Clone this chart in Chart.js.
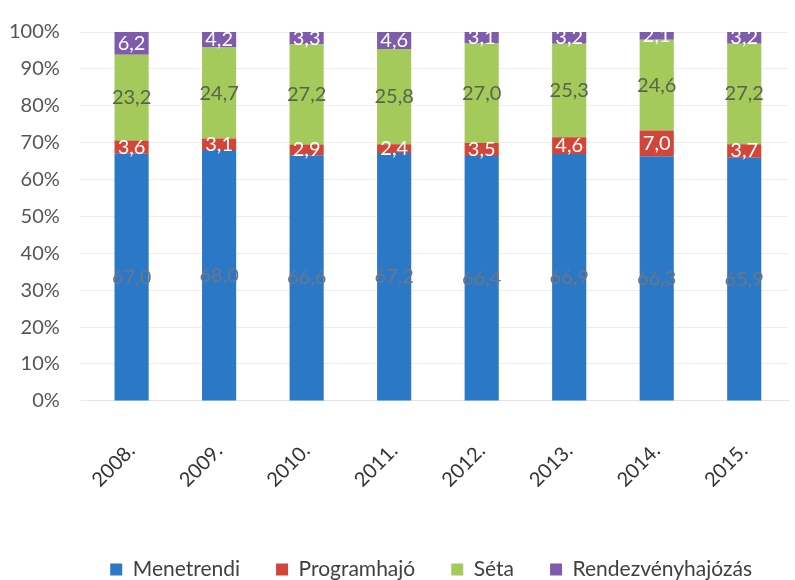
<!DOCTYPE html>
<html>
<head>
<meta charset="utf-8">
<script src="https://cdn.jsdelivr.net/npm/chart.js@4.4.1/dist/chart.umd.min.js"></script>
<style>
  html, body { margin: 0; padding: 0; background: #fff; }
  #wrap { width: 795px; height: 580px; }
</style>
</head>
<body>
<div id="wrap"><canvas id="chart"></canvas></div>
<script>
// years and shares (%)
const years = ["2008.", "2009.", "2010.", "2011.", "2012.", "2013.", "2014.", "2015."];
const menetrendi = [67.0, 68.0, 66.6, 67.2, 66.4, 66.9, 66.3, 65.9];
const programhajo = [3.6, 3.1, 2.9, 2.4, 3.5, 4.6, 7.0, 3.7];
const seta = [23.2, 24.7, 27.2, 25.8, 27.0, 25.3, 24.6, 27.2];
const rendezveny = [6.2, 4.2, 3.3, 4.6, 3.1, 3.2, 2.1, 3.2];

const FONT = "Lato, 'Open Sans', sans-serif";

// draws the value in the middle of every segment
const segmentLabels = {
    id: 'segmentLabels',
    afterDatasetsDraw(chart) {
        const ctx = chart.ctx;
        ctx.save();
        ctx.font = "20px " + FONT;
        ctx.textAlign = 'center';
        ctx.textBaseline = 'middle';
        chart.data.datasets.forEach((ds, i) => {
            const meta = chart.getDatasetMeta(i);
            meta.data.forEach((bar, j) => {
                const y = (bar.y + bar.base) / 2;
                ctx.fillStyle = ds.labelColor;
                ctx.fillText(ds.data[j].toFixed(1).replace('.', ','), bar.x, y);
            });
        });
        ctx.restore();
    }
};

new Chart(document.getElementById('chart'), {
    type: 'bar',
    data: {
        labels: years,
        datasets: [
            { label: 'Menetrendi', data: menetrendi, backgroundColor: '#2b78c6', labelColor: '#6d7784' },
            { label: 'Programhajó', data: programhajo, backgroundColor: '#d2463a', labelColor: '#ffffff' },
            { label: 'Séta', data: seta, backgroundColor: '#a3ca5a', labelColor: '#5a6448' },
            { label: 'Rendezvényhajózás', data: rendezveny, backgroundColor: '#7e5bad', labelColor: '#ffffff' }
        ]
    },
    options: {
        responsive: true,
        maintainAspectRatio: false,
        animation: false,
        layout: { autoPadding: false, padding: { top: 14, right: 7, left: -11, bottom: -10 } },
        datasets: { bar: { barPercentage: 0.39, categoryPercentage: 1.0 } },
        plugins: {
            legend: {
                position: 'bottom',
                align: 'end',
                labels: {
                    font: { size: 21, family: FONT },
                    color: '#404040',
                    boxWidth: 12,
                    boxHeight: 12,
                    padding: 36
                }
            },
            tooltip: { enabled: false }
        },
        scales: {
            x: {
                stacked: true,
                grid: { display: false },
                border: { color: '#e4e4e4' },
                ticks: {
                    font: { size: 20, family: FONT },
                    color: '#333',
                    maxRotation: 45,
                    minRotation: 45,
                    padding: 30
                },
                afterFit: (scale) => { scale.height += 1; }
            },
            y: {
                stacked: true,
                min: 0,
                max: 100,
                border: { display: false },
                grid: { color: '#ececec' },
                ticks: {
                    stepSize: 10,
                    font: { size: 20, family: FONT },
                    color: '#555',
                    padding: 20,
                    callback: v => v + '%'
                }
            }
        }
    },
    plugins: [segmentLabels]
});
</script>
</body>
</html>
